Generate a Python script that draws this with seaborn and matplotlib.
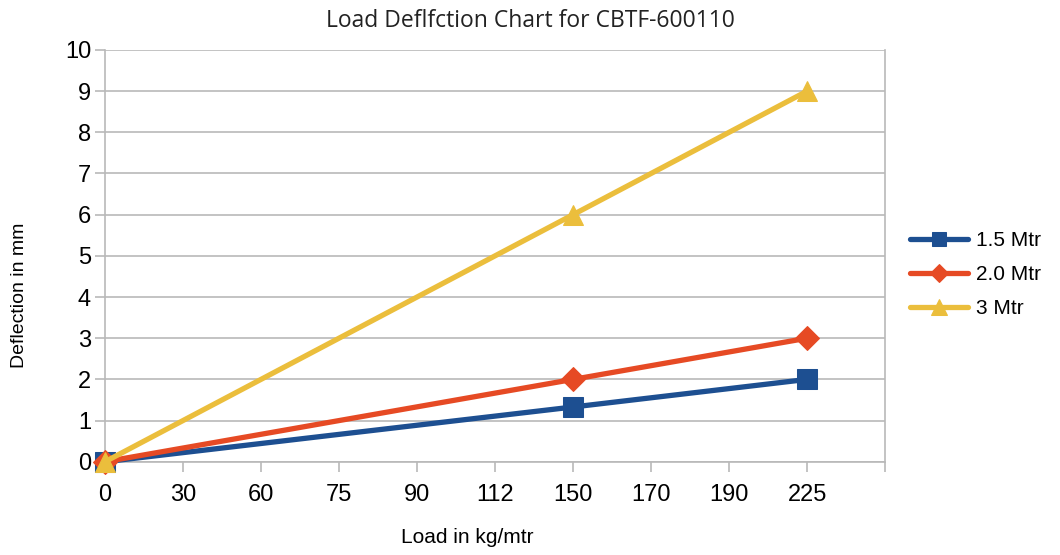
import numpy as np
import pandas as pd
import matplotlib.pyplot as plt
import seaborn as sns

# category labels along the x axis (loads in kg/mtr)
loads = ["0", "30", "60", "75", "90", "112", "150", "170", "190", "225"]

# measured points: load label -> deflection (mm)
pts_loads = ["0", "150", "225"]
defl_15 = [0, 1.33, 2]
defl_20 = [0, 2, 3]
defl_30 = [0, 6, 9]

series = ["1.5 Mtr", "2.0 Mtr", "3 Mtr"]
colors = ["#1d4f91", "#e64a24", "#ebbe3c"]
markers = ["s", "D", "^"]
msizes = [14, 12, 15]

rows = []
for name, vals in zip(series, [defl_15, defl_20, defl_30]):
    for ld, v in zip(pts_loads, vals):
        rows.append({"series": name, "pos": loads.index(ld), "deflection": v})
df = pd.DataFrame(rows)

sns.set_style("white")
plt.rcParams["font.family"] = ["Liberation Sans", "DejaVu Sans"]
plt.rcParams["text.color"] = "black"
plt.rcParams["axes.labelcolor"] = "black"
plt.rcParams["xtick.labelcolor"] = "black"
plt.rcParams["ytick.labelcolor"] = "black"
narrow = ["Liberation Sans Narrow", "Liberation Sans", "DejaVu Sans"]

fig = plt.figure(figsize=(10.6, 5.55), dpi=100)
ax = fig.add_axes([0.099, 0.168, 0.736, 0.742])

for name, c, m, ms in zip(series, colors, markers, msizes):
    sub = df[df["series"] == name]
    sns.lineplot(data=sub, x="pos", y="deflection", ax=ax, color=c, marker=m,
                 markersize=ms, markeredgecolor=c, linewidth=3.8, label=name,
                 clip_on=False, zorder=3)

ax.set_xlim(0, len(loads))
ax.set_ylim(0, 10)
ax.set_xticks(range(len(loads) + 1))
ax.set_xticklabels(loads + [""])
ax.set_yticks(range(0, 11))
ax.yaxis.grid(True, color="#b9b9b9", linewidth=1.2)
ax.xaxis.grid(False)
for side in ["top", "right", "bottom", "left"]:
    ax.spines[side].set_color("#b9b9b9")
    ax.spines[side].set_linewidth(1.2)
ax.spines["top"].set_visible(False)
ax.tick_params(axis="both", which="major", length=7, width=1.2, color="#b9b9b9",
               labelcolor="black", labelsize=17, pad=3, bottom=True, left=True)
ax.tick_params(axis="x", pad=9)
for lab in ax.get_xticklabels() + ax.get_yticklabels():
    lab.set_family(narrow)

ax.set_xlabel("Load in kg/mtr", fontsize=15, color="black")
ax.xaxis.set_label_coords(0.465, -0.184)
ax.xaxis.label.set_va("center")
ax.set_ylabel("Deflection in mm", fontsize=14, color="black")
ax.yaxis.set_label_coords(-0.109, 0.405)
ax.yaxis.label.set_va("center")
fig.text(0.5, 0.962, "Load Deflfction Chart for CBTF-600110", ha="center", va="center",
         fontsize=16.5, color="#222222", family=["Open Sans", "DejaVu Sans"])

leg = ax.legend(loc="center left", bbox_to_anchor=(910 / 1060, 1 - 275 / 555),
                bbox_transform=fig.transFigure, frameon=False, borderpad=0,
                borderaxespad=0, fontsize=15, handlelength=2.8, handletextpad=0.35,
                labelspacing=0.72, markerscale=0.75)
for t in leg.get_texts():
    t.set_family(narrow)
    t.set_color("black")

fig.savefig("out.png", dpi=100)
